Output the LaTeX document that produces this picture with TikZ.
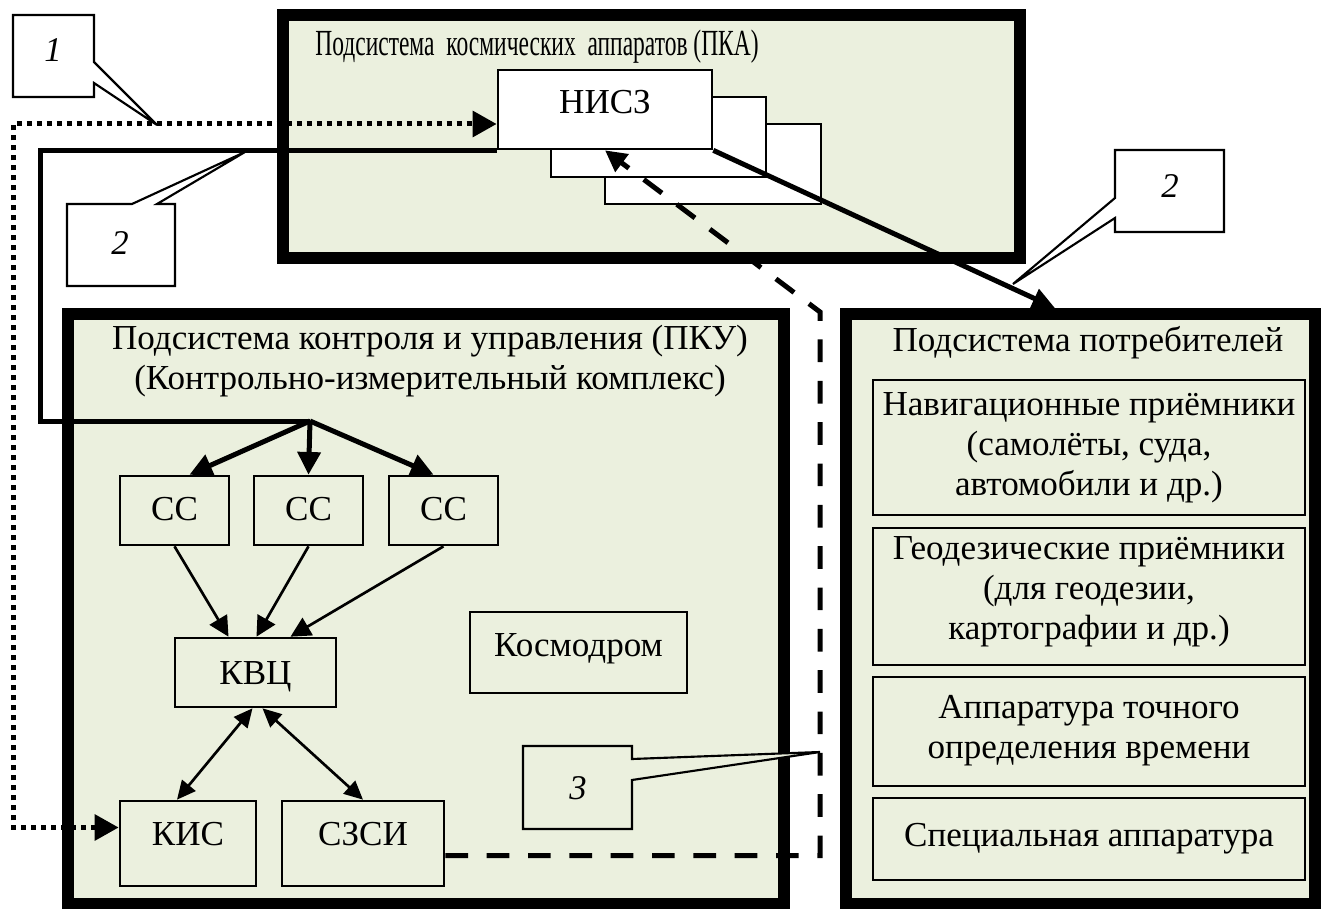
\documentclass[tikz,border=0pt]{standalone}
\usepackage{fontspec}
\usepackage{graphicx}
\setmainfont{Liberation Serif}
\usetikzlibrary{arrows.meta,fit,calc}
\definecolor{pgreen}{RGB}{235,240,222}
\begin{document}
\begin{tikzpicture}[x=0.75pt,y=-0.75pt,
  frame/.style={draw, line width=9pt, fill=pgreen, inner sep=0pt},
  box/.style={draw, line width=2pt, fill=pgreen, inner sep=0pt},
  wbox/.style={box, fill=white},
  callout/.style={draw, line width=1.6pt, fill=white, line join=miter},
  lbl/.style={font=\fontsize{26.3}{30}\selectfont, align=center, inner sep=0pt},
  blbl/.style={lbl, anchor=base},
  num/.style={font=\fontsize{26}{28}\selectfont\itshape, inner sep=0pt},
  thickconn/.style={line width=3.75pt},
  thinconn/.style={line width=2pt},
  bigtip/.style={-{Triangle[length=17pt,width=17pt]}},
  smalltip/.style={-{Triangle[length=15pt,width=15pt]}},
  bothtip/.style={{Triangle[length=14pt,width=13pt]}-{Triangle[length=14pt,width=13pt]}},
  dotconn/.style={line width=3.75pt, dash pattern=on 3.75pt off 3.75pt},
  dashconn/.style={line width=3.75pt, dash pattern=on 17pt off 14pt},
]
\useasboundingbox (0,0) rectangle (1321,909);

% ---- frames ----
\node[frame, fit={(283,15)(1020,258)}] (pka) {};
\node[frame, fit={(68,314)(784,904)}] (pku) {};
\node[frame, fit={(846,314)(1315,904)}] (cons) {};

% ---- titles ----
\node[blbl] (pkatitle) at (537,56) {\scalebox{0.67}[1.05]{Подсистема\hspace{0.5em}космических\hspace{0.5em}аппаратов (ПКА)}};
\node[lbl] (pkutitle) at (430,361) {Подсистема контроля и управления (ПКУ)\\(Контрольно-измерительный комплекс)};
\node[blbl] (constitle) at (1088,351) {Подсистема потребителей};

% ---- satellites ----
\node[wbox, fit={(605,124)(821,204)}] (nisz3) {};
\node[wbox, fit={(551,97)(766,177)}] (nisz2) {};
\node[wbox, fit={(498,70)(712,149)}] (nisz) {};
\node[blbl] (niszl) at (605,114) {НИСЗ};

% ---- PKU inner boxes ----
\node[box, fit={(120,476)(229,545)}] (cc1) {};
\node[box, fit={(254,476)(363,545)}] (cc2) {};
\node[box, fit={(389,476)(498,545)}] (cc3) {};
\node[box, fit={(175,638)(336,707)}] (kvc) {};
\node[box, fit={(470,612)(687,693)}] (kosm) {};
\node[box, fit={(120,801)(256,886)}] (kis) {};
\node[box, fit={(282,801)(444,886)}] (szsi) {};
\node[blbl] (cc1l) at (174.5,520) {СС};
\node[blbl] (cc2l) at (308.5,520) {СС};
\node[blbl] (cc3l) at (443.5,520) {СС};
\node[blbl] (kvcl) at (255.5,684) {КВЦ};
\node[blbl] (kosml) at (578.5,656) {Космодром};
\node[blbl] (kisl) at (188,845) {КИС};
\node[blbl] (szsil) at (363,845) {СЗСИ};

% ---- consumer boxes ----
\node[box, fit={(873,380)(1305,515)}] (nav) {};
\node[box, fit={(873,528)(1305,665)}] (geo) {};
\node[box, fit={(873,677)(1305,786)}] (time) {};
\node[box, fit={(873,798)(1305,880)}] (spec) {};
\node[lbl] (navl) at (1089,448) {Навигационные приёмники\\(самолёты, суда,\\автомобили и др.)};
\node[lbl] (geol) at (1089,592) {Геодезические приёмники\\(для геодезии,\\картографии и др.)};
\node[lbl] (timel) at (1089,731) {Аппаратура точного\\определения времени};
\node[blbl] (specl) at (1089,846) {Специальная аппаратура};

% ---- helper coordinates ----
\coordinate (jn) at (310,421);
\coordinate (bendL) at (40,421);
\coordinate (dotN) at (0,124);
\coordinate (dotL) at (13,124);
\coordinate (dashTop) at (820,312);
\coordinate (consTip) at (1055,0);
\coordinate (c3tip) at (820,752);

% ---- dotted link KIS <-> NISZ ----
\draw[dotconn, {Triangle[length=18pt,width=19pt]}-{Triangle[length=18pt,width=19pt]}]
  ($(kis.west)+(0,-16)$) -| (dotL) -- (nisz.west |- dotN);

% ---- solid link NISZ -> CC ----
\draw[thickconn] (nisz.south west) -| (bendL) -- (jn);
\draw[thickconn, bigtip] (jn) -- ($(cc1.north)+(15,0)$);
\draw[thickconn, bigtip] (jn) -- (cc2.north);
\draw[thickconn, bigtip] (jn) -- ($(cc3.north)+(-10,0)$);

% ---- CC -> KVC ----
\draw[thinconn, smalltip] (cc1.south) -- ($(kvc.north)+(-27,0)$);
\draw[thinconn, smalltip] (cc2.south) -- ($(kvc.north)+(1,0)$);
\draw[thinconn, smalltip] (cc3.south) -- ($(kvc.north)+(35,0)$);

% ---- KVC <-> KIS, SZSI ----
\draw[thinconn, bothtip] ($(kis.north)+(-11,0)$) -- ($(kvc.south)+(-3,0)$);
\draw[thinconn, bothtip] ($(kvc.south)+(7,0)$) -- (szsi.north);

% ---- dashed SZSI -> NISZ ----
\draw[dashconn, -{Triangle[length=16pt,width=16pt]}]
  ($(szsi.east)+(0,12)$) -| (dashTop) -- (nisz.south);

% ---- NISZ -> consumers ----
\draw[thickconn, -{Triangle[length=17pt,width=15pt]}] (nisz.south east) -- (cons.north -| consTip);

% ---- callouts ----
\draw[callout] (13,15) -- (94,15) -- (94,62) -- (157,125) -- (94,83) -- (94,97) -- (13,97) -- cycle;
\node[num] (n1) at (53,50) {1};
\draw[callout] (67,204) -- (132,204) -- (245,152) -- (157,204) -- (175,204) -- (175,286) -- (67,286) -- cycle;
\node[num] (n2a) at (120,243) {2};
\draw[callout] (1115,150) -- (1224,150) -- (1224,232) -- (1115,232) -- (1115,218) -- (1013,284) -- (1115,198) -- cycle;
\node[num] (n2b) at (1170,186) {2};
\draw[callout, fill=pgreen] (523,746) -- (632,746) -- (632,759) -- (c3tip) -- (632,780) -- (632,829) -- (523,829) -- cycle;
\node[num] (n3) at (578,788) {3};
\end{tikzpicture}
\end{document}
